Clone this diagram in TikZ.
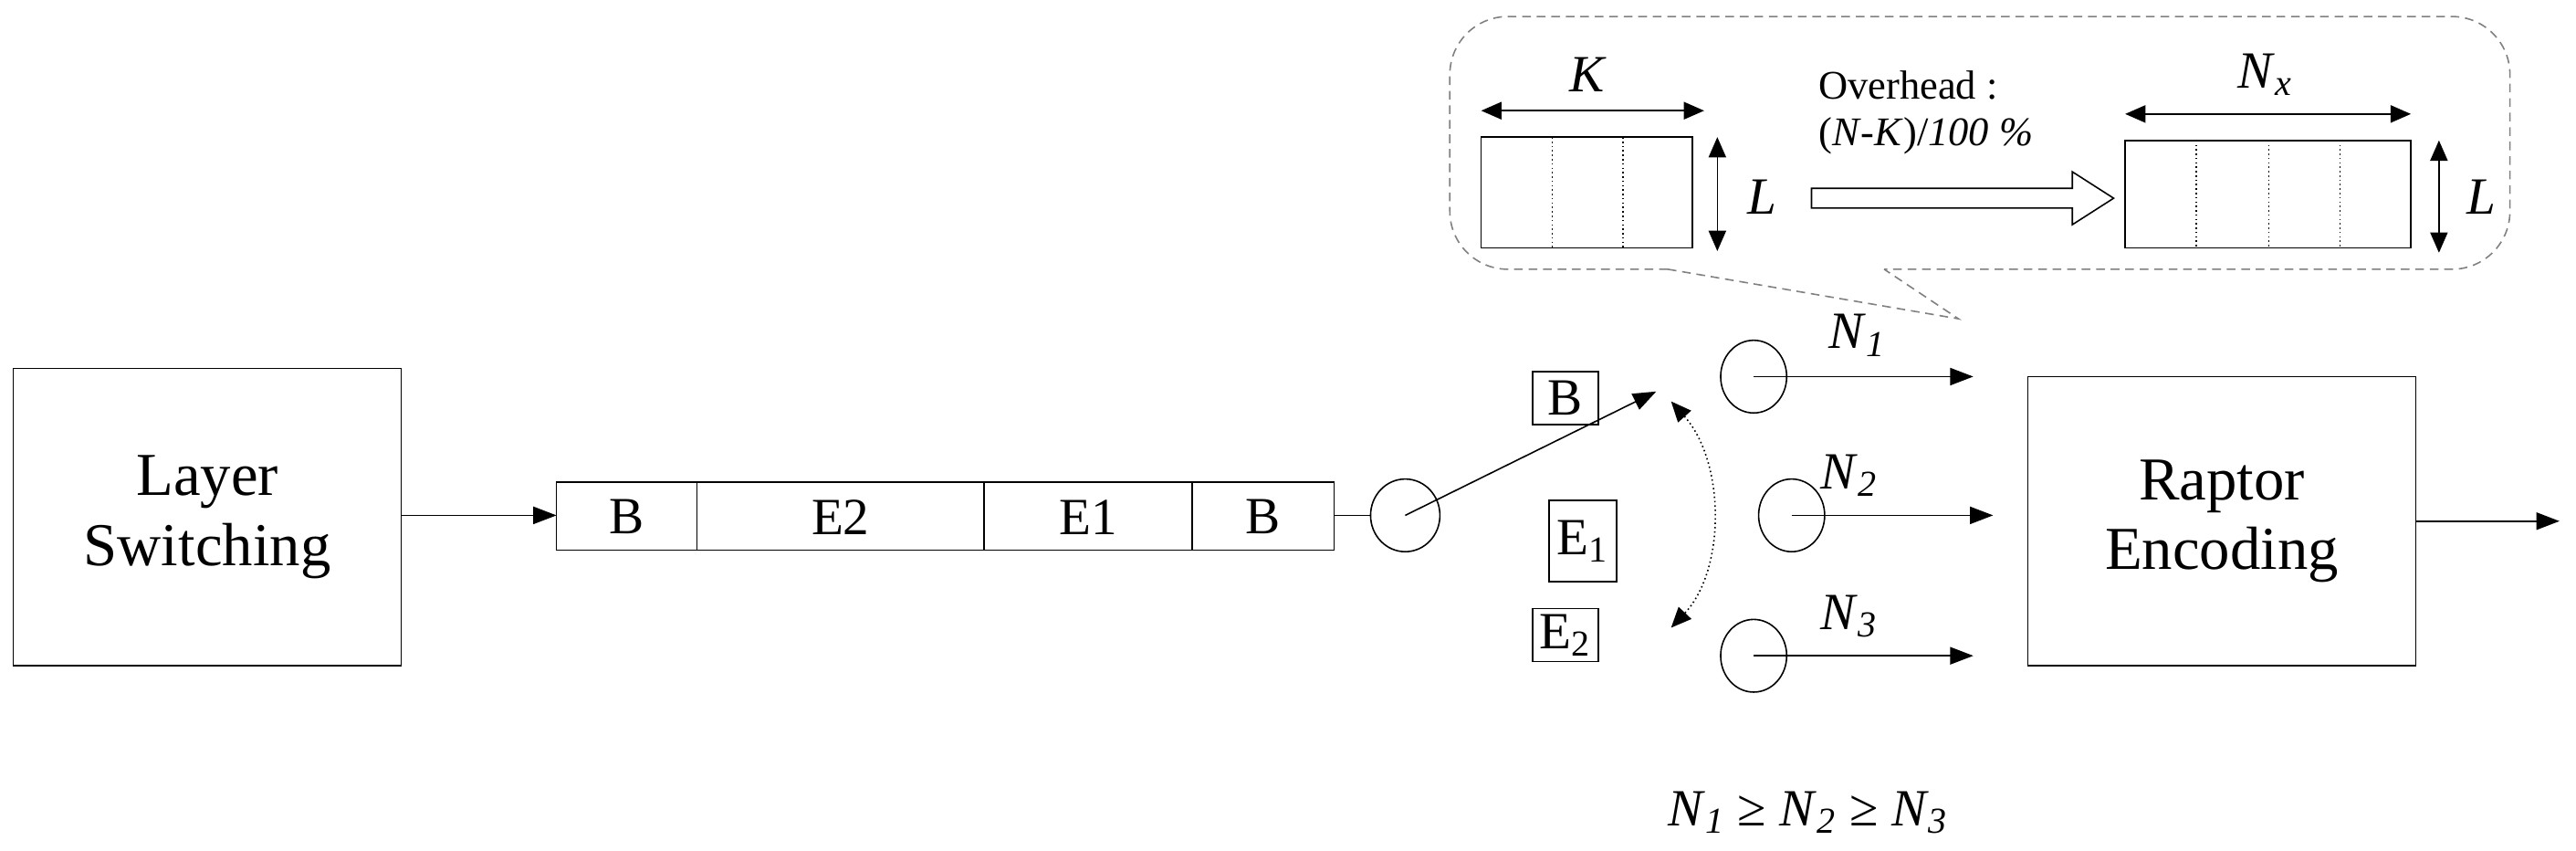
\documentclass[tikz,border=0pt]{standalone}
\usepackage{fontspec}
\setmainfont{Liberation Serif}
\usetikzlibrary{arrows.meta}
\newcommand{\nsub}[1]{\textit{N}\textsubscript{\textit{#1}}}
\begin{document}
\begin{tikzpicture}[x=0.02cm,y=-0.02cm,line width=0.5pt,
  box/.style={draw,inner sep=0pt},
  big/.style={font=\fontsize{21}{24}\selectfont,align=center},
  lab/.style={font=\fontsize{18}{20}\selectfont},
  nl/.style={font=\fontsize{18}{20}\selectfont},
  sm/.style={font=\fontsize{14}{16}\selectfont},
  arr/.style={-{Triangle[length=8pt,width=6pt]}},
  darr/.style={{Triangle[length=7pt,width=6pt]}-{Triangle[length=7pt,width=6pt]}}]
\useasboundingbox (0,0) rectangle (1560,515);
% main blocks
\node[box,big,minimum width=4.7cm,minimum height=3.6cm] (ls) at (125.5,313) {Layer\\Switching};
\node[box,big,minimum width=4.7cm,minimum height=3.5cm] (re) at (1345.5,315.5) {Raptor\\Encoding};
% strip
\draw (337,292) rectangle (808,333);
\foreach \x in {422,596,722} \draw (\x,292) -- (\x,333);
\node[lab] (s1) at (379.5,313) {B};
\node[lab] (s2) at (509,313) {E2};
\node[lab] (s3) at (659,313) {E1};
\node[lab] (s4) at (765,313) {B};
\coordinate (sin) at (337,312);
\coordinate (sout) at (808,312);
\draw[arr] (ls.east |- sin) -- (sin);
% switch
\draw (851,312) ellipse (21 and 22);
\coordinate (sc) at (851,312);
\draw (sout) -- (830,312);
\coordinate (sw) at (1003,237);
\draw[arr] (sc) -- (sw);
\node[box,lab,minimum width=0.8cm,minimum height=0.64cm] (b) at (948,241) {B};
\node[box,lab,minimum width=0.82cm,minimum height=0.98cm] (e1) at (958.5,327.5) {E\textsubscript{1}};
\node[box,lab,minimum width=0.8cm,minimum height=0.64cm] (e2) at (948,384.5) {E\textsubscript{2}};
\coordinate (at) at (1012,243);
\coordinate (ab) at (1012,380);
\draw[densely dotted,darr] (at) .. controls (1045,280) and (1045,345) .. (ab);
% outputs
\foreach \n/\cx/\cy/\ex in {1/1062/228/1195,2/1085/312/1207,3/1062/397/1195}{
  \draw (\cx,\cy) ellipse (20 and 22);
  \coordinate (c\n) at (\cx,\cy);
  \coordinate (o\n) at (\ex,\cy);
  \draw[arr] (c\n) -- (o\n);
}
\node[nl] (n1) at (1125,203) {\nsub{1}};
\node[nl] (n2) at (1120,288) {\nsub{2}};
\node[nl] (n3) at (1120,373) {\nsub{3}};
\coordinate (out) at (1550,315.5);
\draw[arr] (re.east) -- (out);
\node[nl] (rel) at (1095,492) {\nsub{1} ≥ \nsub{2} ≥ \nsub{3}};
% callout
\draw[gray,densely dashed,rounded corners=20]
  (1010,163) -- (878,163) -- (878,10) -- (1520,10) -- (1520,163) -- (1141,163);
\draw[gray,densely dashed] (1010,163) -- (1186,193) -- (1141,163);
% left matrix
\draw (897,83) rectangle (1025,150);
\foreach \x in {940,983} \draw[densely dotted] (\x,83) -- (\x,150);
\coordinate (ka) at (897,67); \coordinate (kb) at (1032,67);
\draw[darr] (ka) -- (kb);
\node[nl] (k) at (962,45) {\textit{K}};
\coordinate (la) at (1040,83); \coordinate (lb) at (1040,152);
\draw[darr] (la) -- (lb);
\node[nl] (l1) at (1067,119) {\textit{L}};
% overhead
\node[sm,align=left,anchor=west] (ov) at (1095,68) {Overhead :\\(\textit{N}-\textit{K})/\textit{100 \%}};
\draw (1097,114) -- (1255,114) -- (1255,104) -- (1280,120) -- (1255,136) -- (1255,126) -- (1097,126) -- cycle;
% right matrix
\draw (1287,85) rectangle (1460,150);
\foreach \x in {1330,1374,1417} \draw[densely dotted] (\x,85) -- (\x,150);
\coordinate (na) at (1287,69); \coordinate (nb) at (1460,69);
\draw[darr] (na) -- (nb);
\node[nl] (nx) at (1372,45) {\textit{N}\textsubscript{\textit{x}}};
\coordinate (ma) at (1477,85); \coordinate (mb) at (1477,153);
\draw[darr] (ma) -- (mb);
\node[nl] (l2) at (1503,119) {\textit{L}};
\end{tikzpicture}
\end{document}
